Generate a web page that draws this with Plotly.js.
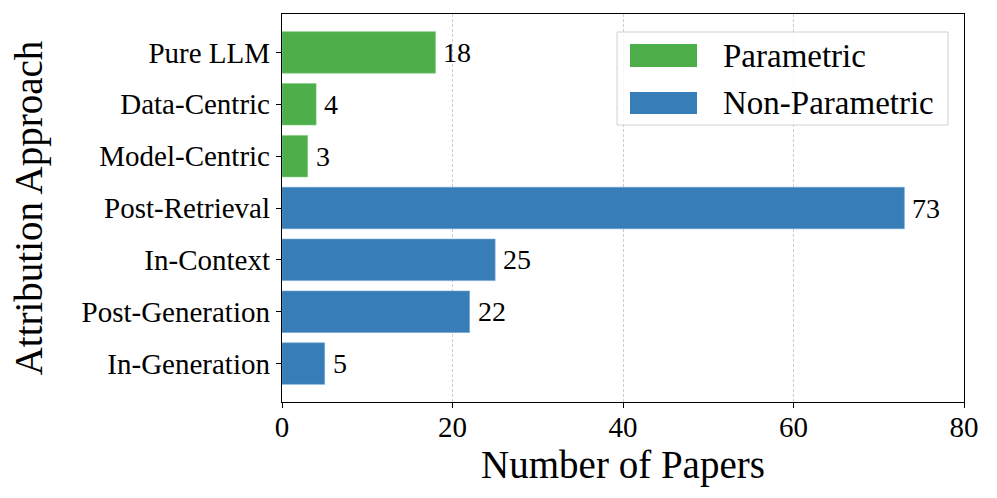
<!DOCTYPE html>
<html>
<head>
<meta charset="utf-8">
<script src="https://cdn.plot.ly/plotly-3.0.1.min.js"></script>
<style>html,body{margin:0;padding:0;background:#fff;}#chart{width:997px;height:498px;}</style>
</head>
<body>
<div id="chart"></div>
<script>
var categories = ["Pure LLM","Data-Centric","Model-Centric","Post-Retrieval","In-Context","Post-Generation","In-Generation"];
var paramCats = ["Pure LLM","Data-Centric","Model-Centric"];
var paramVals = [18,4,3];
var nonParamCats = ["Post-Retrieval","In-Context","Post-Generation","In-Generation"];
var nonParamVals = [73,25,22,5];
var seriesNames = ["Parametric","Non-Parametric"];
var xTicks = [0,20,40,60,80];

var GREEN = "#4daf4a", BLUE = "#377eb8";
var FONT = "Liberation Serif, Times New Roman, serif";
var M = {l:282, r:33, t:14, b:96};
var W = 997, H = 498, PW = W-M.l-M.r, PH = H-M.t-M.b;
function px(x){return (x-M.l)/PW;}
function py(y){return (H-M.b-y)/PH;}

var traces = [
  {type:"bar", orientation:"h", name:seriesNames[0], y:paramCats, x:paramVals, width:0.8,
   marker:{color:GREEN, line:{color:"#7fc97c", width:0.6}}, hoverinfo:"x+y"},
  {type:"bar", orientation:"h", name:seriesNames[1], y:nonParamCats, x:nonParamVals, width:0.8,
   marker:{color:BLUE, line:{color:"#6fa3d3", width:0.6}}, hoverinfo:"x+y"}
];

var annotations = [];
paramCats.forEach(function(c,i){annotations.push({x:paramVals[i], y:c, xref:"x", yref:"y", text:String(paramVals[i]), showarrow:false, xanchor:"left", yanchor:"middle", xshift:6, font:{family:FONT,size:28,color:"#000"}});});
nonParamCats.forEach(function(c,i){annotations.push({x:nonParamVals[i], y:c, xref:"x", yref:"y", text:String(nonParamVals[i]), showarrow:false, xanchor:"left", yanchor:"middle", xshift:6, font:{family:FONT,size:28,color:"#000"}});});
// legend text
annotations.push({xref:"paper", yref:"paper", x:px(721), y:py(56), text:seriesNames[0], showarrow:false, xanchor:"left", yanchor:"middle", font:{family:FONT,size:33,color:"#000"}});
annotations.push({xref:"paper", yref:"paper", x:px(721), y:py(103), text:seriesNames[1], showarrow:false, xanchor:"left", yanchor:"middle", font:{family:FONT,size:33,color:"#000"}});

var shapes = [
  {type:"rect", xref:"paper", yref:"paper", x0:px(617), x1:px(948), y0:py(32), y1:py(125), line:{color:"#d0d0d0", width:1}, fillcolor:"rgba(255,255,255,0.8)", layer:"above"},
  {type:"rect", xref:"paper", yref:"paper", x0:px(630), x1:px(697), y0:py(44), y1:py(67), line:{width:0}, fillcolor:GREEN, layer:"above"},
  {type:"rect", xref:"paper", yref:"paper", x0:px(630), x1:px(697), y0:py(92), y1:py(114), line:{width:0}, fillcolor:BLUE, layer:"above"}
];

var layout = {
  width:W, height:H, margin:M, paper_bgcolor:"#fff", plot_bgcolor:"#fff",
  showlegend:false, barmode:"overlay",
  font:{family:FONT, color:"#000"},
  xaxis:{range:[0,80], tickvals:xTicks, ticktext:xTicks.map(String), showgrid:true, gridcolor:"#c0c0c0", griddash:"3px,2px", gridwidth:0.8,
         zeroline:false, showline:true, mirror:true, linecolor:"#000", linewidth:1.2, ticks:"outside", ticklen:5, tickcolor:"#000",
         ticklabelstandoff:-6,
         tickfont:{family:FONT,size:29}, title:{text:"Number of Papers", font:{family:FONT,size:39}, standoff:4}},
  yaxis:{type:"category", categoryorder:"array", categoryarray:categories, range:[6.74,-0.74], showgrid:false, zeroline:false,
         showline:true, mirror:true, linecolor:"#000", linewidth:1.2, ticks:"outside", ticklen:5, tickcolor:"#000",
         tickfont:{family:FONT,size:29}, title:{text:"Attribution Approach", font:{family:FONT,size:39}, standoff:26}},
  annotations:annotations, shapes:shapes
};
Plotly.newPlot("chart", traces, layout, {displayModeBar:false, staticPlot:true});
</script>
</body>
</html>
